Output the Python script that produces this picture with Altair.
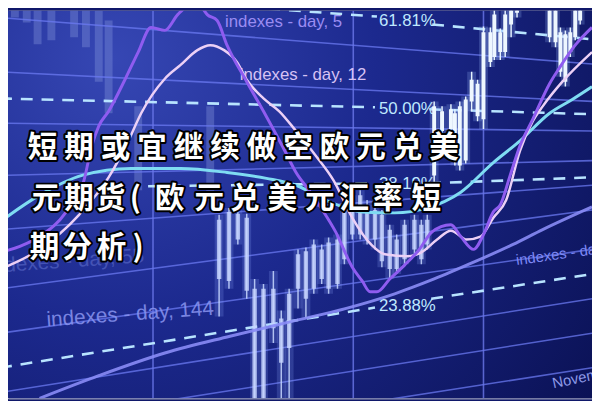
import altair as alt
import pandas as pd

W, H = 592, 393
XD = [8, 600]
YD = [401, 8]

# ---------------- data (image pixel space) ----------------
# bright candles (upper right)
br_x    = [440, 448, 457, 461, 466, 472, 478, 484, 490, 497, 501, 507, 512, 518, 524, 557, 563, 568, 573, 578, 583, 588]
br_top  = [105, 110, 108, 112, 105, 98, 78, 82, 30, 30, 12, 30, 12, 0, 0, 0, 0, 30, 32, 30, 0, 0]
br_bot  = [175, 130, 128, 160, 165, 160, 100, 115, 118, 60, 55, 50, 50, 22, 10, 35, 40, 70, 80, 50, 35, 18]
br_high = [100, 105, 103, 108, 100, 95, 70, 78, 24, 25, 6, 26, 5, 0, 0, 0, 0, 25, 28, 25, 0, 0]
br_low  = [185, 135, 132, 165, 170, 163, 110, 120, 128, 65, 58, 58, 55, 35, 15, 40, 45, 75, 85, 55, 38, 22]

# middle candles
md_x    = [222, 232, 241, 250, 258, 267, 277, 285, 293, 302, 310, 318, 326, 333, 342, 349, 357, 365, 372, 380, 387, 395, 402, 410, 420, 427, 433]
md_top  = [220, 212, 214, 218, 290, 290, 290, 320, 295, 255, 252, 245, 250, 243, 240, 210, 200, 195, 205, 210, 215, 230, 240, 225, 220, 225, 220]
md_bot  = [280, 282, 240, 292, 401, 401, 330, 365, 350, 290, 300, 290, 280, 290, 285, 260, 235, 235, 240, 240, 262, 270, 270, 260, 250, 260, 245]
md_high = [215, 208, 210, 214, 280, 285, 272, 312, 290, 250, 248, 240, 245, 238, 235, 205, 195, 190, 200, 205, 210, 225, 235, 220, 215, 220, 215]
md_low  = [318, 290, 245, 300, 401, 401, 345, 401, 401, 310, 320, 295, 285, 295, 290, 265, 240, 240, 245, 250, 268, 280, 275, 265, 255, 265, 250]

# faint blurred candles (upper left)
fb_x   = [15, 27, 38, 52, 75, 87, 100, 110, 140, 213]
fb_top = [0, 0, 0, 0, 0, 0, 8, 18, 105, 105]
fb_bot = [15, 20, 42, 38, 35, 45, 80, 112, 190, 200]

# moving-average curves
ma5_x = [0, 20, 40, 67, 85, 93, 100, 110, 127, 140, 153, 167, 180, 197, 203, 210, 220, 230, 250, 267, 287, 300, 313, 328, 340, 357, 367, 375, 382, 395, 410, 425, 437, 447, 457, 467, 480, 490, 500, 507, 517, 527, 540, 557, 567, 583, 600]
ma5_y = [253, 247, 237, 212, 180, 145, 125, 110, 77, 50, 25, 28, 12, 0, 3, 12, 18, 43, 80, 110, 147, 172, 190, 212, 232, 268, 282, 293, 293, 280, 266, 250, 233, 227, 225, 237, 250, 235, 212, 205, 175, 145, 118, 82, 66, 43, 25]

ma12_x = [0, 40, 80, 110, 130, 143, 167, 183, 200, 213, 227, 240, 250, 267, 283, 300, 320, 338, 357, 377, 390, 413, 427, 443, 457, 473, 487, 500, 513, 527, 540, 550, 570, 600]
ma12_y = [270, 250, 215, 177, 140, 112, 77, 63, 48, 43, 48, 60, 78, 97, 110, 130, 155, 180, 218, 246, 255, 257, 253, 240, 231, 240, 237, 218, 200, 150, 120, 105, 80, 50]

ma55_x = [0, 40, 83, 133, 183, 230, 270, 300, 330, 367, 400, 433, 467, 500, 527, 557, 580, 600]
ma55_y = [222, 195, 175, 168, 168, 172, 178, 185, 200, 212, 213, 208, 192, 162, 140, 112, 98, 85]

ma26_x = [40, 100, 167, 233, 300, 350, 400, 440, 480, 520, 550, 600]
ma26_y = [401, 378, 355, 338, 322, 310, 295, 280, 263, 245, 230, 207]

# perspective grid lines: x1, y1, x2, y2
grid_x1 = [0, 0, 0, 0, 0, 0, 0, 0, 0, 150]
grid_y1 = [15, 70, 122, 175, 230, 290, 335, 395, 430, 440]
grid_x2 = [600, 600, 600, 600, 600, 600, 600, 600, 600, 600]
grid_y2 = [62, 100, 130, 160, 185, 210, 250, 300, 335, 370]
vgrid_x = [155, 358, 490]

# Fibonacci levels (dashed segments, broken for label)
fib_labels = ["61.81%", "50.00%", "38.19%", "23.88%"]
fib_lab_y  = [19, 108, 184, 307]
fib_a = [(230, 3, 382, 14), (0, 97, 380, 106), (150, 186, 380, 183), (0, 370, 380, 309)]
fib_b = [(438, 22, 600, 37), (435, 108, 600, 113), (435, 183, 600, 177), (437, 300, 600, 275)]

# index labels: text, x, y, size, angle, color, opacity
idx_text  = ["indexes - day, 5", "indexes - day, 12", "indexes - day, 144", "indexes - day, 55", "indexes - day, 26", "November"]
idx_x     = [228, 243, 47, -12, 523, 560]
idx_y     = [20, 73, 322, 268, 261, 386]
idx_size  = [17, 17, 21, 21, 15, 15]
idx_angle = [0, 0, 356, 356, 352, 348]
idx_color = ["#9a8cf2", "#d6c2f4", "#8a95f0", "#6272d0", "#7d88f5", "#8e9ae8"]
idx_op    = [1.0, 1.0, 0.85, 0.55, 1.0, 1.0]

# title
line1 = "短期或宜继续做空欧元兑美"
line2 = "元期货(欧元兑美元汇率短"
line3 = "期分析)"
line1_x = [43 + 37 * i for i in range(len(line1))]
line2_x = [47, 80, 112, 137, 172, 212, 248, 286, 324, 359, 393, 432]
line3_x = [45, 78, 113, 140]
line_y = [147, 199, 249]

# ---------------- helpers ----------------
xs = alt.Scale(domain=XD, nice=False, zero=False)
ys = alt.Scale(domain=YD, nice=False, zero=False)


def X(f="x"):
    return alt.X(f"{f}:Q", scale=xs, axis=None)


def Y(f="y"):
    return alt.Y(f"{f}:Q", scale=ys, axis=None)


def segs(list_of_tuples):
    rows = []
    for i, (a, b, c, d) in enumerate(list_of_tuples):
        rows.append({"id": i, "o": 0, "x": a, "y": b})
        rows.append({"id": i, "o": 1, "x": c, "y": d})
    return pd.DataFrame(rows)


def seg_layer(df, **kw):
    return alt.Chart(df).mark_line(clip=True, **kw).encode(
        x=X(), y=Y(), detail="id:N", order="o:Q")


def curve(xv, yv, **kw):
    df = pd.DataFrame({"x": xv, "y": yv, "o": range(len(xv))})
    return alt.Chart(df).mark_line(clip=True, interpolate="monotone", **kw).encode(
        x=X(), y=Y(), order="o:Q")


def rules(xv, y1, y2, **kw):
    df = pd.DataFrame({"x": xv, "y": y1, "y2": y2})
    return alt.Chart(df).mark_rule(clip=True, strokeCap="butt", **kw).encode(
        x=X(), y=Y(), y2=alt.Y2("y2:Q"))


# ---------------- layers ----------------
bg = alt.Chart(pd.DataFrame({"x": [8], "x2": [600], "y": [8], "y2": [401]})).mark_rect(
    color={"gradient": "radial", "x1": 0.18, "y1": 0.25, "r1": 0, "x2": 0.18, "y2": 0.25, "r2": 1.0,
           "stops": [{"offset": 0, "color": "#3647b4"}, {"offset": 0.45, "color": "#1c298e"},
                     {"offset": 1, "color": "#0b1256"}]}
).encode(x=X(), x2=alt.X2("x2:Q"), y=Y(), y2=alt.Y2("y2:Q"))

faint = rules(fb_x, fb_top, fb_bot, color="#8a9ae0", strokeWidth=8, opacity=0.35)

grid = seg_layer(segs(list(zip(grid_x1, grid_y1, grid_x2, grid_y2))), color="#6b7af2", strokeWidth=1.6, opacity=0.75)
vgrid = rules(vgrid_x, [8] * 3, [401] * 3, color="#6c78ea", strokeWidth=1.6, opacity=0.8)

idx_df = pd.DataFrame({"t": idx_text, "x": idx_x, "y": idx_y, "s": idx_size, "a": idx_angle,
                       "c": idx_color, "op": idx_op})
idx_layers = []
for _, r in idx_df.iterrows():
    idx_layers.append(
        alt.Chart(pd.DataFrame([r])).mark_text(
            align="left", baseline="middle", font="Liberation Sans", fontSize=int(r["s"]),
            angle=int(r["a"]), color=r["c"], opacity=float(r["op"]), clip=True
        ).encode(x=X(), y=Y(), text="t:N")
    )

fib_dash_a = seg_layer(segs(fib_a), color="#b8e4ff", strokeWidth=2.6, strokeDash=[12, 9])
fib_dash_b = seg_layer(segs(fib_b), color="#b8e4ff", strokeWidth=2.6, strokeDash=[12, 9])
fib_text = alt.Chart(pd.DataFrame({"t": fib_labels, "x": [384] * 4, "y": fib_lab_y})).mark_text(
    align="left", baseline="middle", font="Liberation Sans", fontSize=17, color="#bfe8ff"
).encode(x=X(), y=Y(), text="t:N")

glow_br = rules(br_x, br_high, br_low, color="#9fc0ff", strokeWidth=9, opacity=0.22)
wick_br = rules(br_x, br_high, br_low, color="#e6f3ff", strokeWidth=1.5)
body_br = rules(br_x, br_top, br_bot, color="#eef7ff", strokeWidth=4)

glow_md = rules(md_x, md_high, md_low, color="#8fa8ff", strokeWidth=9, opacity=0.2)
wick_md = rules(md_x, md_high, md_low, color="#c8d8ff", strokeWidth=1.5, opacity=0.85)
body_md = rules(md_x, md_top, md_bot, color="#c8d6ff", strokeWidth=4.5, opacity=0.8)

ma26 = curve(ma26_x, ma26_y, color="#8a8cf6", strokeWidth=3, opacity=0.9)
ma55 = curve(ma55_x, ma55_y, color="#7fdcf2", strokeWidth=3)
ma12 = curve(ma12_x, ma12_y, color="#ecd0f6", strokeWidth=2.5)
ma5 = curve(ma5_x, ma5_y, color="#8f5cf0", strokeWidth=3)

title_rows = []
for chars, xv, yv in [(line1, line1_x, line_y[0]), (line2, line2_x, line_y[1]), (line3, line3_x, line_y[2])]:
    for ch, xx in zip(chars, xv):
        title_rows.append({"t": ch, "x": xx, "y": yv})
tdf = pd.DataFrame(title_rows)
title_stroke = alt.Chart(tdf).mark_text(
    align="center", baseline="middle", font="Noto Sans CJK SC", fontSize=30, fontWeight="bold",
    color="#000000", stroke="#000000", strokeWidth=4, strokeJoin="round"
).encode(x=X(), y=Y(), text="t:N")
title_fill = alt.Chart(tdf).mark_text(
    align="center", baseline="middle", font="Noto Sans CJK SC", fontSize=30, fontWeight="bold",
    color="#ffffff"
).encode(x=X(), y=Y(), text="t:N")

chart = alt.layer(
    bg, faint, grid, vgrid, *idx_layers, fib_dash_a, fib_dash_b, fib_text,
    glow_md, wick_md, body_md, glow_br, wick_br, body_br,
    ma26, ma55, ma12, ma5, title_stroke, title_fill
).properties(
    width=W, height=H, padding=0, autosize=alt.AutoSizeParams(type="none")
).configure_view(stroke=None).configure(background="#10186a")

chart.save("out.html", embed_options={"renderer": "svg", "actions": False})
